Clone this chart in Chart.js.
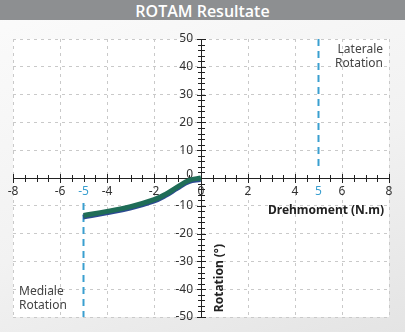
<!DOCTYPE html>
<html>
<head>
<meta charset="utf-8">
<script src="https://cdn.jsdelivr.net/npm/chart.js@4.4.0/dist/chart.umd.min.js"></script>
<style>
  html, body { margin: 0; padding: 0; }
  body {
    width: 405px; height: 332px; overflow: hidden;
    background: linear-gradient(160deg, #fbfbfb 0%, #f2f2f2 55%, #e4e4e4 100%);
    font-family: "Noto Sans", "Open Sans", sans-serif;
  }
  #title {
    height: 20px; line-height: 20px; background: #8d8f91; color: #fff;
    text-align: center; font: 600 16px "Open Sans", "Noto Sans", sans-serif;
  }
  #wrap { width: 405px; height: 312px; }
</style>
</head>
<body>
<div id="title">ROTAM Resultate</div>
<div id="wrap"><canvas id="chart" width="405" height="312"></canvas></div>
<script>
// measured curve: torque (N.m) vs rotation (deg)
const torque = [-5, -4, -3, -2, -1.5, -1, -0.5, 0];
const rotation = [-13.5, -12, -10.3, -7.8, -5.8, -3.2, -0.8, 0];

// limit markers (dashed blue lines)
const medialX = [-5, -5];
const medialY = [-9, -50];
const lateralX = [5, 5];
const lateralY = [50, 4];

const xTickLabels = [-8, -6, -5, -4, -2, 0, 2, 4, 5, 6, 8];
const yTickLabels = [-50, -40, -30, -20, -10, 0, 10, 20, 30, 40, 50];
const highlightX = [-5, 5];

const toPoints = (xs, ys) => xs.map((v, i) => ({ x: v, y: ys[i] }));

const crossAxes = {
  id: "crossAxes",
  beforeDraw(chart) {
    const { ctx, chartArea: a } = chart;
    ctx.save();
    ctx.fillStyle = "#fff";
    ctx.fillRect(a.left, a.top, a.width, a.height);
    ctx.restore();
  },
  beforeDatasetsDraw(chart) {
    const { ctx, scales: { x, y } } = chart;
    const x0 = x.getPixelForValue(0), y0 = y.getPixelForValue(0);
    ctx.save();
    ctx.strokeStyle = "#222";
    ctx.lineWidth = 1;
    ctx.beginPath();
    ctx.moveTo(x.left, y0 + 0.5); ctx.lineTo(x.right, y0 + 0.5);
    ctx.moveTo(x0 + 0.5, y.top); ctx.lineTo(x0 + 0.5, y.bottom);
    for (let v = x.min; v <= x.max; v += 0.5) {
      const px = Math.round(x.getPixelForValue(v)) + 0.5;
      const len = v % 2 === 0 ? 4 : 3;
      ctx.moveTo(px, y0 - len); ctx.lineTo(px, y0 + len + 1);
    }
    for (let v = y.min; v <= y.max; v += 2) {
      const py = Math.round(y.getPixelForValue(v)) + 0.5;
      const len = v % 10 === 0 ? 4 : 3;
      ctx.moveTo(x0 - len, py); ctx.lineTo(x0 + len + 1, py);
    }
    ctx.stroke();

    ctx.font = '12px "Noto Sans", sans-serif';
    ctx.textAlign = "center";
    ctx.textBaseline = "middle";
    xTickLabels.forEach(v => {
      ctx.fillStyle = highlightX.includes(v) ? "#3a9fd0" : "#333";
      ctx.fillText(String(v), x.getPixelForValue(v), y0 + 14);
    });
    ctx.textAlign = "right";
    ctx.fillStyle = "#333";
    yTickLabels.forEach(v => {
      const off = v === 0 ? -3 : 0;
      ctx.fillText(String(v), x0 - 8, y.getPixelForValue(v) + off);
    });

    ctx.font = 'bold 12px "Noto Sans", sans-serif';
    ctx.fillStyle = "#222";
    ctx.fillText("Drehmoment (N.m)", x.right - 5, y0 + 33);
    ctx.save();
    ctx.translate(x0 + 19, y.getPixelForValue(-36));
    ctx.rotate(-Math.PI / 2);
    ctx.textAlign = "center";
    ctx.fillText("Rotation (°)", 0, 0);
    ctx.restore();

    ctx.font = '12px "Noto Sans", sans-serif';
    ctx.fillStyle = "#444";
    ctx.textAlign = "right";
    ctx.fillText("Laterale", x.right - 6, y.top + 11);
    ctx.fillText("Rotation", x.right - 6, y.top + 25);
    ctx.textAlign = "left";
    ctx.fillText("Mediale", x.left + 6, y.bottom - 25);
    ctx.fillText("Rotation", x.left + 6, y.bottom - 11);
    ctx.restore();
  },
  beforeDatasetDraw(chart, args) {
    if (args.index === 0) {
      chart.ctx.save();
      chart.ctx.shadowColor = "#2c4a92";
      chart.ctx.shadowOffsetY = 1.5;
      chart.ctx.shadowOffsetX = -0.5;
    }
  },
  afterDatasetDraw(chart, args) {
    if (args.index === 0) chart.ctx.restore();
  }
};

new Chart(document.getElementById("chart"), {
  type: "line",
  data: {
    datasets: [
      {
        data: toPoints(torque, rotation),
        borderColor: "#1f6d57",
        borderWidth: 5,
        tension: 0.4,
        pointRadius: 0
      },
      {
        data: toPoints(medialX, medialY),
        borderColor: "#3a9fd0",
        borderWidth: 2,
        borderDash: [7, 5],
        pointRadius: 0
      },
      {
        data: toPoints(lateralX, lateralY),
        borderColor: "#3a9fd0",
        borderWidth: 2,
        borderDash: [7, 5],
        pointRadius: 0
      }
    ]
  },
  options: {
    responsive: false,
    animation: false,
    devicePixelRatio: 1,
    layout: { padding: { left: 13, right: 16, top: 19, bottom: 15 } },
    plugins: { legend: { display: false }, tooltip: { enabled: false } },
    scales: {
      x: {
        type: "linear", min: -8, max: 8,
        ticks: { display: false, stepSize: 2 },
        grid: { color: "#c9c9c9", drawTicks: false },
        border: { display: false, dash: [3, 4] }
      },
      y: {
        type: "linear", min: -50, max: 50,
        ticks: { display: false, stepSize: 10 },
        grid: { color: "#c9c9c9", drawTicks: false },
        border: { display: false, dash: [3, 4] }
      }
    }
  },
  plugins: [crossAxes]
});
</script>
</body>
</html>
